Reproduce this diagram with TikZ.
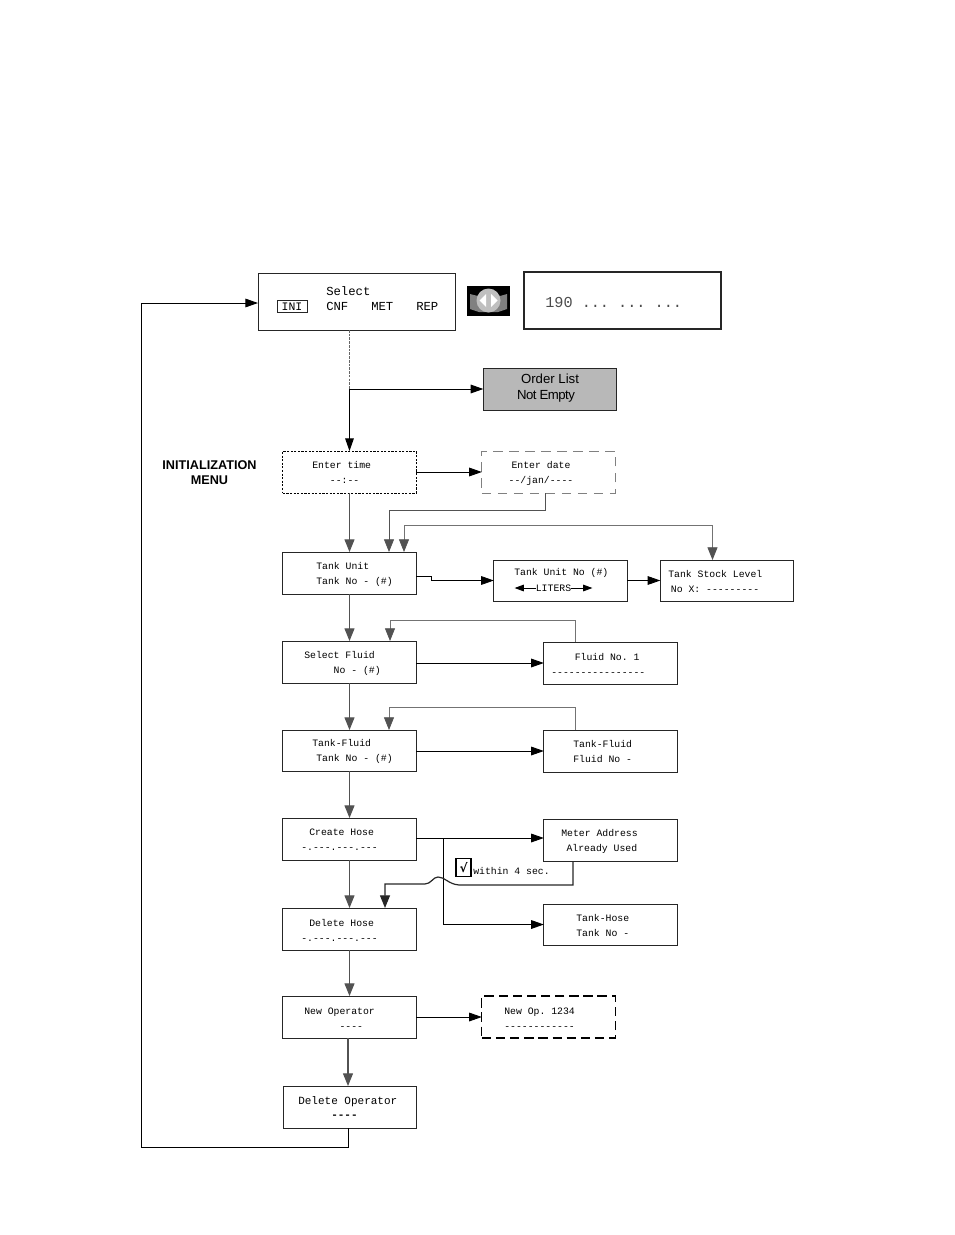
\documentclass[tikz,border=0pt]{standalone}
\usepackage{fontspec}
\setmainfont{Liberation Sans}
\setmonofont{Liberation Mono}
\usetikzlibrary{arrows.meta}
\newfontfamily\checkfont{DejaVu Sans}
\begin{document}
\begin{tikzpicture}[x=0.75pt,y=-0.75pt,
    lcd/.style = {draw=black!85, line width=0.75pt, minimum width=100pt, minimum height=31.5pt, inner sep=0pt, outer sep=0pt, fill=white},
    lcdtext/.style = {anchor=west, inner sep=0pt, align=left, text=black, font=\ttfamily\fontsize{7.35}{11.25}\selectfont},
    flow/.style = {draw=black!68, line width=0.8pt, -{Triangle[length=9.5pt,width=7.5pt]}},
    thinflow/.style = {draw=black!55, line width=0.6pt},
    jump/.style = {draw=black, line width=0.7pt, -{Triangle[length=9.5pt,width=6.5pt]}}]
    \useasboundingbox (0,0) rectangle (954,1235);

    % Draw the top row
    \node[lcd, minimum width=147.75pt, minimum height=42.75pt] (select) at (356.5,301.5) {};
    \node[lcdtext, font=\ttfamily\fontsize{9.2}{11.25}\selectfont] (selecttext) at (326,291) {Select};
    \node[draw=black!85, line width=0.75pt, minimum width=22.5pt, minimum height=9pt, inner sep=0pt, font=\ttfamily\fontsize{8.6}{11.25}\selectfont] (ini) at (292,306.5) {INI};
    \foreach \Name/\X in {CNF/326, MET/371, REP/416}{
        \node[lcdtext, font=\ttfamily\fontsize{9.2}{11.25}\selectfont] (\Name) at (\X,306.5) {\Name};
    }
    \node[lcd, line width=1.5pt, minimum width=147.75pt, minimum height=42.75pt] (display) at (622.5,300.5) {};
    \node[lcdtext, text=black!70, font=\ttfamily\fontsize{11.4}{12}\selectfont] (displaytext) at (545,302.5) {190 ... ... ...};

    % Draw the arrow key
    \fill[black] (466.5,286) rectangle (510,316);
    \fill[black!50] (470,294) -- (478,296) -- (500,296) -- (507,294) -- (507,309) -- (498,312) -- (479,312) -- (470,309) -- cycle;
    \fill[black!25] (488.5,300.5) circle (12);
    \fill[white] (486,294) -- (486,307) -- (479.5,300.5) -- cycle;
    \fill[white] (491,294) -- (491,307) -- (497.5,300.5) -- cycle;

    % Draw the boxes
    \node[lcd, fill=black!28, minimum height=31.5pt] (orderlist) at (550,389) {};
    \node[anchor=center, align=center, inner sep=0pt, font=\fontsize{9.9}{11.6}\selectfont] (ordertext) at (550,388) {Order List\\\hspace*{-6pt}\addfontfeature{LetterSpace=-4}Not Empty};
    \node[align=center, inner sep=0pt, font=\bfseries\fontsize{9.5}{11.25}\selectfont] (menutext) at (209.5,472.5) {INITIALIZATION\\MENU};
    \node[lcd, dash pattern=on 1.6pt off 1.1pt, draw=black] (time) at (349.5,472) {};
    \node[lcd, dash pattern=on 7pt off 5pt, draw=black!50] (date) at (548.5,472) {};
    \node[lcd] (unit) at (349.5,573) {};
    \node[lcd, minimum height=30.75pt] (unitno) at (560.5,580.5) {};
    \node[lcd, minimum height=30.75pt] (stock) at (727,580.5) {};
    \node[lcd] (fluid) at (349.5,662) {};
    \node[lcd] (fluidno) at (610.5,663) {};
    \node[lcd, minimum height=30.75pt] (tankfluid) at (349.5,750.5) {};
    \node[lcd] (tankfluidno) at (610.5,751) {};
    \node[lcd] (create) at (349.5,839) {};
    \node[lcd] (meter) at (610.5,840) {};
    \node[lcd] (delete) at (349.5,929) {};
    \node[lcd, minimum height=30.75pt] (tankhose) at (610.5,924.5) {};
    \node[lcd] (operator) at (349.5,1017) {};
    \node[lcd, dash pattern=on 7pt off 3.6pt, draw=black, line width=0.9pt] (newop) at (548.5,1017) {};
    \node[lcd] (deleteop) at (350,1107) {};

    % Draw the texts
    \foreach \Name/\X/\Y/\Text in {
        timetext/312/472/{Enter time\\\ \ \ --:--},
        unittext/316/574/{Tank Unit\\Tank No - (\#)},
        unitnotext/514/573/{Tank Unit No (\#)},
        stocktext/668/581/{Tank Stock Level\\\hspace*{2pt}No X: ---------},
        fluidtext/304/663/{Select Fluid\\\ \ \ \ \ No - (\#)},
        fluidnotext/551/664/{\ \ \ \ Fluid No. 1\\----------------},
        tankfluidtext/312/751/{Tank-Fluid\\\hspace*{3pt}Tank No - (\#)},
        tankfluidnotext/573/752/{Tank-Fluid\\Fluid No -},
        createtext/301/840/{\hspace*{6pt}Create Hose\\-.---.---.---},
        deletetext/301/930/{\hspace*{6pt}Delete Hose\\-.---.---.---},
        metertext/561/841/{Meter Address\\\hspace*{4pt}Already Used},
        tankhosetext/576/925/{Tank-Hose\\Tank No -},
        operatortext/304/1019/{New Operator\\\ \ \ \ \ \ ----},
        newoptext/504/1019/{New Op. 1234\\------------}}{
        \node[lcdtext] (\Name) at (\X,\Y) {\Text};
    }
    \node[lcdtext, align=center, anchor=center] (datetext) at (541,473) {Enter date\\--/jan/----};
    \node[lcdtext, font=\ttfamily\fontsize{8.25}{10.5}\selectfont] (deleteoptext) at (298,1108) {Delete Operator\\\ \ \ \ \ \textbf{----}};
    \node[lcdtext, anchor=center] (liters) at (553.5,588) {LITERS};
    \draw[black, line width=0.7pt, -{Triangle[length=7pt,width=5pt]}] (liters.west) -- ++(-21,0);
    \draw[black, line width=0.7pt, -{Triangle[length=7pt,width=5pt]}] (liters.east) -- ++(21,0);
    \node[draw=black, line width=0.9pt, minimum width=11.25pt, minimum height=13.5pt, inner sep=0pt, font=\checkfont\bfseries\fontsize{9}{10}\selectfont] (check) at (463.5,867.5) {√};
    \node[lcdtext] (checktext) at (473,870.5) {within 4 sec.};

    % Draw the main column
    \coordinate (branch) at (349.5,389);
    \draw[draw=black!60, line width=0.75pt, dash pattern=on 2pt off 0.8pt] (select.south -| branch) -- (branch);
    \draw[jump] (branch) -- (time.north);
    \draw[jump] (branch) -- (orderlist.west);
    \foreach \From/\To in {time/unit, unit/fluid, fluid/tankfluid, tankfluid/create, create/delete, delete/operator}{
        \draw[flow] (\From.south) -- (\To.north);
    }
    \coordinate (opstem) at (348,1038);
    \draw[flow] (opstem) -- (opstem |- deleteop.north);

    % Draw the arrows to the right
    \draw[jump] (time.east |- date.west) -- (date.west);
    \draw[jump] (operator.east) -- (newop.west);
    \draw[jump, line width=0.6pt] (unit.east |- 0,576) -- (431,576) -- (431,580.5) -- (unitno.west);
    \draw[jump, line width=0.6pt] (unitno.east) -- (stock.west);
    \draw[jump] (fluid.east |- fluidno.west) -- (fluidno.west);
    \draw[jump] (tankfluid.east |- tankfluidno.west) -- (tankfluidno.west);
    \coordinate (hosebranch) at (443,838);
    \draw[jump] (create.east |- hosebranch) -- (hosebranch -| meter.west);
    \draw[jump] (hosebranch) |- (tankhose.west);

    % Draw the returning lines
    \coordinate (dateout) at (545,493);
    \coordinate (dateturn) at (389,510);
    \draw[flow, line width=0.6pt] (dateout) |- (dateturn) -- (dateturn |- unit.north);
    \coordinate (stockturn) at (404,525);
    \coordinate (stockend) at (712.5,525);
    \draw[thinflow, {Triangle[length=9.5pt,width=7.5pt,black!68]}-{Triangle[length=9.5pt,width=7.5pt,black!68]}] (stockturn |- unit.north) -- (stockturn) -- (stockend) -- (stockend |- stock.north);
    \coordinate (fluidturn) at (390,620);
    \coordinate (fluidout) at (575,642);
    \draw[thinflow, -{Triangle[length=9.5pt,width=7.5pt,black!68]}] (fluidout) |- (fluidturn) -- (fluidturn |- fluid.north);
    \coordinate (tankturn) at (389,707);
    \coordinate (tankout) at (575,730);
    \draw[thinflow, -{Triangle[length=9.5pt,width=7.5pt,black!68]}] (tankout) |- (tankturn) -- (tankturn |- tankfluid.north);
    \coordinate (meterout) at (573,861);
    \coordinate (hoseturn) at (385,884);
    \draw[flow, draw=black!85, line width=0.9pt] (meterout) -- (573,885) -- (459,885) .. controls (448,884) and (445,877) .. (438,877) .. controls (433,877) and (431,884) .. (425,884) -- (hoseturn) -- (hoseturn |- delete.north);

    % Draw the loop back
    \coordinate (loopturn) at (348,1147);
    \coordinate (loopup) at (141,303);
    \draw[jump] (loopturn |- deleteop.south) -- (loopturn) -- (loopup |- loopturn) -- (loopup) -- (loopup -| select.west);
\end{tikzpicture}
\end{document}
